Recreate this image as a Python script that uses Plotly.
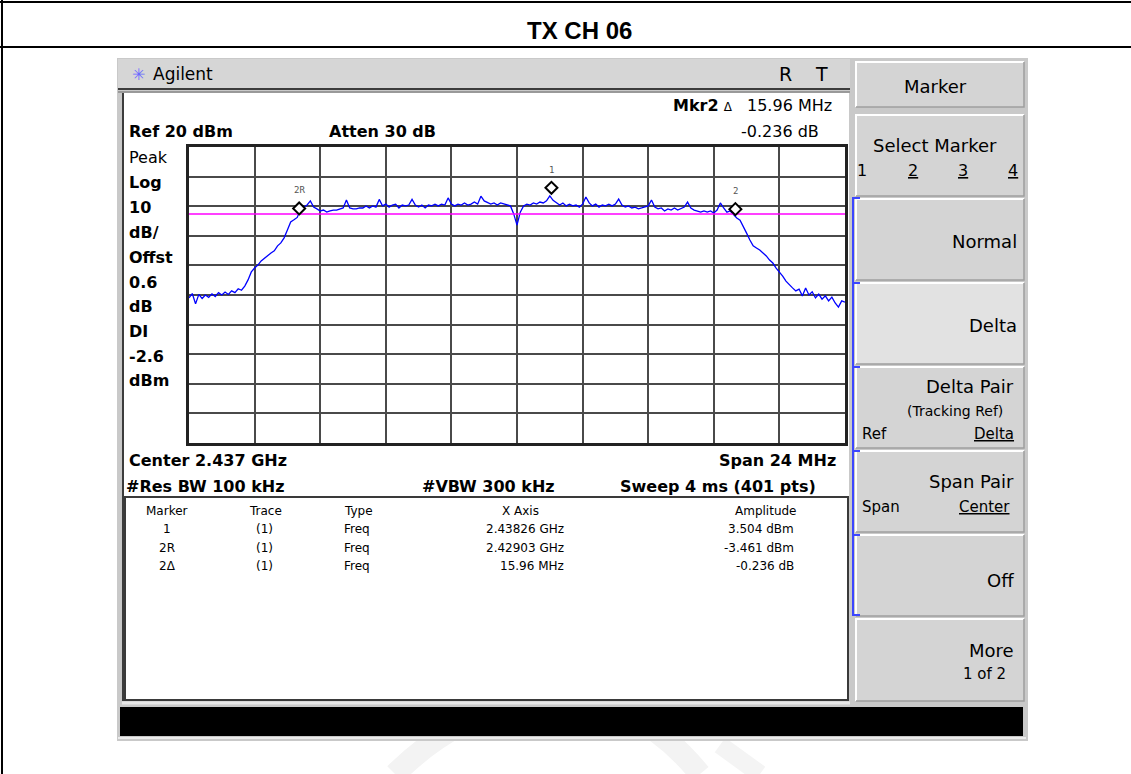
import numpy as np
import plotly.graph_objects as go

W, H = 1131, 774

# ---------------- data ----------------
page_title = "TX CH 06"
center_ghz = 2.437
span_mhz = 24
ref_level_dbm = 20
db_per_div = 10
atten_db = 30
offset_db = 0.6
display_line_dbm = -2.6
rbw_khz = 100
vbw_khz = 300
sweep_ms = 4
sweep_pts = 401

# swept trace, dBm (every other bucket of the 401-point sweep)
trace_dbm = [
    -31.0, -29.5, -33.0, -29.8, -31.2, -30.0, -30.8, -29.6, -30.5, -29.2,
    -30.0, -29.0, -29.8, -28.6, -29.2, -27.9, -28.4, -27.0, -24.9, -22.2,
    -20.9, -19.9, -18.5, -17.5, -16.8, -15.8, -15.1, -13.4, -12.4, -10.7,
    -8.0, -5.3, -4.6, -3.8, -1.0, -0.3, 0.4, 1.8, -0.3, -0.9,
    -1.6, -1.3, -2.0, -1.6, -1.3, -1.3, -0.9, -0.6, 2.1, -0.6,
    -0.9, -0.9, -0.6, -0.6, 0.1, -0.6, 0.1, -0.3, 2.3, 0.1,
    0.7, -0.3, 0.4, 0.7, -0.6, 0.4, 0.1, 0.4, 2.3, 0.4,
    -0.3, 0.4, -0.6, 0.4, 0.1, 0.7, 0.1, 0.7, 0.4, 2.8,
    0.7, 0.1, 0.7, 0.4, 1.1, 0.4, 0.7, 1.4, 0.7, 3.4,
    1.8, 1.1, 0.7, 1.1, 0.4, 1.1, 0.7, 0.4, 0.1, -2.6,
    -6.4, -2.0, 0.1, 0.7, 0.4, 1.1, 0.7, 1.4, 1.1, 1.8,
    3.5, 2.0, 1.1, 0.4, 1.1, 0.1, 0.7, 0.1, 0.4, -0.3,
    0.7, 3.1, 1.1, 0.1, 0.7, -0.3, 0.4, 0.1, 0.7, 0.1,
    0.7, 2.4, 0.4, -0.3, 0.1, -0.6, -0.3, -0.9, -0.6, -0.3,
    0.1, 2.1, -0.3, -0.9, -0.6, -1.6, -0.9, -1.3, -0.6, -1.3,
    -0.9, -0.3, 1.4, -0.6, -1.3, -1.6, -2.0, -1.6, -2.0, -1.6,
    -2.3, -1.3, 1.1, -0.6, -2.0, -1.6, -3.0, -4.0, -4.7, -6.7,
    -9.1, -11.4, -13.4, -14.1, -14.8, -15.8, -16.8, -18.2, -19.2, -20.9,
    -22.2, -23.6, -25.3, -26.6, -27.6, -28.6, -28.0, -30.3, -27.6, -30.0,
    -28.9, -31.0, -29.7, -31.4, -30.3, -32.0, -30.7, -32.7, -34.1, -32.0,
    -32.4,
]

# markers
marker_names = ["1", "2R", "2"]
marker_freq_ghz = [2.43826, 2.42903, 2.42903 + 15.96e-3]
marker_amp_dbm = [3.504, -3.461, -3.461 - 0.236]
delta_freq_mhz = 15.96
delta_amp_db = -0.236

table_header = ["Marker", "Trace", "Type", "X Axis", "Amplitude"]
table_marker = ["1", "2R", "2\u0394"]
table_trace = ["(1)", "(1)", "(1)"]
table_type = ["Freq", "Freq", "Freq"]
table_xaxis = ["2.43826 GHz", "2.42903 GHz", "15.96 MHz"]
table_amp = ["3.504 dBm", "-3.461 dBm", "-0.236 dB"]

# ---------------- helpers ----------------
def px(x):
    return x / W


def py(y):
    return 1 - y / H


shapes = []
annotations = []

SANS = "DejaVu Sans"


def rect(x0, y0, x1, y1, fill, line_color=None, line_width=0, layer="below"):
    shapes.append(dict(
        type="rect", xref="paper", yref="paper",
        x0=px(x0), x1=px(x1), y0=py(y1), y1=py(y0),
        fillcolor=fill, layer=layer,
        line=dict(color=line_color or fill, width=line_width),
    ))


def poly(points, color, width, layer="below"):
    d = "M " + " L ".join(f"{px(x):.6f},{py(y):.6f}" for x, y in points)
    shapes.append(dict(type="path", xref="paper", yref="paper", path=d,
                       line=dict(color=color, width=width), layer=layer))


def text(s, x, y, size=16, bold=False, anchor="left", color="black",
         family=SANS):
    annotations.append(dict(
        text=s, x=px(x), y=py(y), xref="paper", yref="paper",
        xanchor=anchor, yanchor="middle", showarrow=False,
        font=dict(family=family, size=size, color=color,
                  weight="bold" if bold else "normal"),
    ))


# ---------------- page frame ----------------
poly([(0, 2), (W, 2)], "black", 2)
poly([(2, 0), (2, H)], "black", 2)
poly([(0, 47), (W, 47)], "black", 2)
text(page_title, 579, 31, size=24, bold=True, anchor="center",
     family="Liberation Sans")

# faint watermark arcs below the instrument
shapes.append(dict(type="path", xref="paper", yref="paper", layer="below",
                   path=f"M {px(395):.5f},{py(774):.5f} Q {px(470):.5f},{py(700):.5f} {px(560):.5f},{py(700):.5f} "
                        f"Q {px(640):.5f},{py(700):.5f} {px(700):.5f},{py(774):.5f}",
                   line=dict(color="#f3f3f3", width=22)))
shapes.append(dict(type="path", xref="paper", yref="paper", layer="below",
                   path=f"M {px(720):.5f},{py(745):.5f} L {px(760):.5f},{py(774):.5f}",
                   line=dict(color="#f4f4f4", width=18)))

# ---------------- instrument bezel ----------------
rect(117, 58, 1028, 741, "#c9c9c9")
rect(118, 59, 850, 88, "#d6d6d6")
poly([(118, 89), (850, 89)], "#3c3c3c", 2)
poly([(118, 92), (850, 92)], "#6a6a6a", 1)

# display + table
rect(124, 93, 849, 496, "white")
poly([(123, 93), (123, 701)], "#3c3c3c", 2)
rect(125, 497, 848, 700, "white", "#3a3a3a", 2)
poly([(122, 703), (850, 703)], "#e8e8e8", 3)

# status bar
rect(120, 707, 1023, 736, "black")
poly([(118, 738), (1026, 738)], "#ececec", 2)

# header bar text
text("\u2733", 138, 74, size=16, color="#6a6aff", anchor="center")
text("Agilent", 151, 74, size=17)
text("R", 785, 74, size=19, anchor="center")
text("T", 821, 74, size=19, anchor="center")

# ---------------- softkeys ----------------
keys = [
    (62, 107, "#d4d4d4"),
    (115, 196, "#d4d4d4"),
    (199, 280, "#d4d4d4"),
    (283, 364, "#e2e2e2"),
    (367, 448, "#d4d4d4"),
    (451, 532, "#d4d4d4"),
    (535, 616, "#d4d4d4"),
    (619, 701, "#d4d4d4"),
]
for y0, y1, fill in keys:
    rect(856, y0, 1024, y1, fill)
    poly([(856, y1), (856, y0), (1024, y0)], "white", 2)
    poly([(1024, y0), (1024, y1), (856, y1)], "#9e9e9e", 1.5)

text("Marker", 935, 86, size=18, anchor="center")
text("Select Marker", 935, 146, size=18, anchor="center")
text("1", 862, 171, size=16, anchor="center")
text("<u>2</u>", 913, 171, size=16, anchor="center")
text("<u>3</u>", 963, 171, size=16, anchor="center")
text("<u>4</u>", 1013, 171, size=16, anchor="center")
text("Normal", 1019, 241, size=18, anchor="right")
text("Delta", 1019, 325, size=18, anchor="right")
text("Delta Pair", 1016, 386, size=18, anchor="right")
text("(Tracking Ref)", 1005, 411, size=14, anchor="right")
text("Ref", 860, 434, size=15)
text("<u>Delta</u>", 1016, 434, size=15, anchor="right")
text("Span Pair", 1016, 482, size=18, anchor="right")
text("Span", 860, 507, size=15)
text("<u>Center</u>", 1012, 507, size=15, anchor="right")
text("Off", 1016, 580, size=18, anchor="right")
text("More", 1016, 650, size=18, anchor="right")
text("1 of 2", 1008, 674, size=15, anchor="right")

# blue bracket grouping the marker-mode keys
bracket_tops = [198, 283, 367, 451, 535]
poly([(860, 198), (853, 198), (853, 615), (860, 615)], "#3c46ff", 2)
for yt in bracket_tops[1:]:
    poly([(853, yt), (860, yt)], "#3c46ff", 2)

# ---------------- annotation text on the screen ----------------
text(f"Ref {ref_level_dbm} dBm", 127, 131, bold=True)
text(f"Atten {atten_db} dB", 327, 131, bold=True)
text("<b>Mkr2</b> <span style='font-size:12px'>\u0394</span>", 671, 105)
text(f"{delta_freq_mhz:.2f} MHz", 834, 105, size=16, anchor="right")
text(f"{delta_amp_db:.3f} dB", 821, 131, size=16, anchor="right")

left_labels = ["Peak", "Log", f"{db_per_div}", "dB/", "Offst", f"{offset_db}",
               "dB", "DI", f"{display_line_dbm}", "dBm"]
left_bold = [False, True, True, True, True, True, True, True, True, True]
left_y = [157, 183, 207, 232, 258, 282, 306, 332, 356, 380]
for s, b, yy in zip(left_labels, left_bold, left_y):
    text(s, 127, yy, bold=b)

text(f"Center {center_ghz} GHz", 127, 460, bold=True)
text(f"Span {span_mhz} MHz", 838, 460, bold=True, anchor="right")
text(f"#Res BW {rbw_khz} kHz", 124, 486, bold=True)
text(f"#VBW {vbw_khz} kHz", 420, 486, bold=True)
text(f"Sweep {sweep_ms} ms ({sweep_pts} pts)", 818, 486, bold=True, anchor="right")

# marker table
col_x = [167, 265, 342, 520, 766]
col_anchor = ["center", "center", "left", "center", "center"]
for s, cx, an in zip(table_header, col_x, col_anchor):
    text(s, cx, 511, size=12, anchor=an)
row_y = [529, 548, 566]
for i, yy in enumerate(row_y):
    text(table_marker[i], 167, yy, size=12, anchor="center")
    text(table_trace[i], 264, yy, size=12, anchor="center")
    text(table_type[i], 342, yy, size=12)
    text(table_xaxis[i], 566, yy, size=12, anchor="right")
    text(table_amp[i], 796, yy, size=12, anchor="right")

# ---------------- graticule + trace ----------------
f_lo, f_hi = center_ghz - span_mhz / 2000, center_ghz + span_mhz / 2000
freq_ghz = np.linspace(f_lo, f_hi, len(trace_dbm))
y_lo = ref_level_dbm - 10 * db_per_div

fig = go.Figure()
fig.add_trace(go.Scatter(x=freq_ghz, y=trace_dbm, mode="lines",
                         line=dict(color="#0000ff", width=1.3),
                         hoverinfo="skip", showlegend=False))

# display line
shapes.append(dict(type="line", xref="x", yref="y", x0=f_lo, x1=f_hi,
                   y0=display_line_dbm, y1=display_line_dbm,
                   line=dict(color="#ff00ff", width=1.5), layer="above"))

# marker diamonds sit just above the trace point, labels above them
for name, f, a in zip(marker_names, marker_freq_ghz, marker_amp_dbm):
    shapes.append(dict(type="path", xref="x", yref="y",
                       xsizemode="pixel", ysizemode="pixel",
                       xanchor=f, yanchor=a,
                       path="M 0,2 L 6,8 L 0,14 L -6,8 Z",
                       fillcolor="white", line=dict(color="black", width=2),
                       layer="above"))
    annotations.append(dict(text=name, x=f, y=a, xref="x", yref="y",
                            showarrow=False, yshift=26, xanchor="center",
                            yanchor="middle",
                            font=dict(family="DejaVu Sans Mono", size=9,
                                      color="#555555")))

fig.update_layout(
    width=W, height=H, autosize=False,
    margin=dict(l=0, r=0, t=0, b=0),
    paper_bgcolor="white", plot_bgcolor="white",
    shapes=shapes, annotations=annotations,
    xaxis=dict(domain=[px(189), px(845)], range=[f_lo, f_hi],
               tick0=f_lo, dtick=span_mhz / 10000, showticklabels=False,
               ticks="", showgrid=True, gridcolor="#4a4a4a", gridwidth=1.6,
               zeroline=False, showline=True, mirror=True,
               linecolor="#222222", linewidth=2.5),
    yaxis=dict(domain=[py(443), py(147)], range=[y_lo, ref_level_dbm],
               tick0=y_lo, dtick=db_per_div, showticklabels=False,
               ticks="", showgrid=True, gridcolor="#4a4a4a", gridwidth=1.6,
               zeroline=False, showline=True, mirror=True,
               linecolor="#222222", linewidth=2.5),
)

fig.write_html("out.html")
